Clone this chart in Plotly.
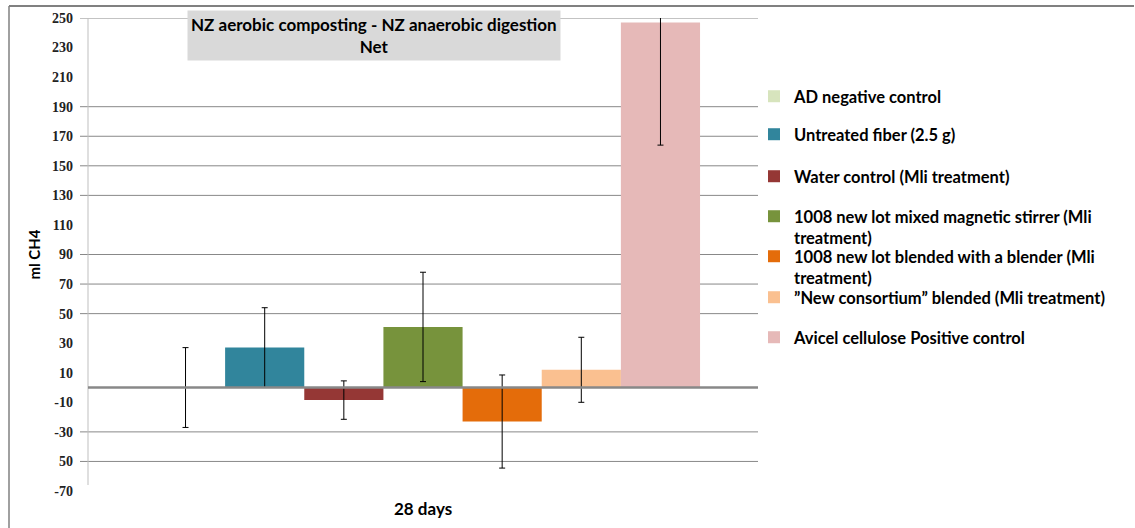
import plotly.graph_objects as go

categories = ["28 days"]
series_names = [
    "AD negative control",
    "Untreated fiber (2.5 g)",
    "Water control (Mli treatment)",
    "1008 new lot mixed magnetic stirrer (Mli<br>treatment)",
    "1008 new lot blended with a blender (Mli<br>treatment)",
    "\u201dNew consortium\u201d blended (Mli treatment)",
    "Avicel cellulose Positive control",
]
values = [0, 27, -8.5, 41, -23, 12, 247]
errors = [27, 27, 13, 37, 31.5, 22, 83]
colors = ["#d7e4bd", "#31859c", "#953735", "#77933c", "#e46c0a", "#fac090", "#e6b9b8"]

tick_vals = [250, 230, 210, 190, 170, 150, 130, 110, 90, 70, 50, 30, 10, -10, -30, -50, -70]
tick_text = ["250", "230", "210", "190", "170", "150", "130", "110", "90", "70", "50", "30", "10", "-10", "-30", "50", "-70"]
grid_vals = [250, 190, 170, 150, 130, 90, 70, 50, -30, -50]

W, H = 1135, 528
L, R, T, B = 88, 377, 18, 37
pw, ph = W - L - R, H - T - B

# pixel row of each legend entry's first line (layout only)
legend_rows = [96, 134, 176, 216, 256, 297, 337]

fig = go.Figure()
legend_defs = {}
for i, (name, v, e, c) in enumerate(zip(series_names, values, errors, colors)):
    lg = "legend" if i == 0 else "legend%d" % (i + 1)
    fig.add_trace(go.Bar(
        x=categories, y=[v], name="<b>" + name + "</b>", marker_color=c, marker_line_width=0,
        error_y=dict(type="data", array=[e], visible=True, color="#000000", thickness=1, width=3),
        legend=lg,
    ))
    legend_defs[lg] = dict(
        x=(754 - L) / pw, y=1 - (legend_rows[i] - 17 - T) / ph, xanchor="left", yanchor="top",
        font=dict(family="Lato", size=16.5, color="#000000"), itemwidth=30,
        bgcolor="rgba(0,0,0,0)", valign="top",
    )

shapes = []
for g in grid_vals:
    shapes.append(dict(type="line", xref="paper", yref="y", x0=-8 / pw, x1=1, y0=g, y1=g,
                       line=dict(color="#888888", width=1), layer="below"))
# zero line
shapes.append(dict(type="line", xref="paper", yref="y", x0=0, x1=1, y0=0, y1=0,
                   line=dict(color="#888888", width=2.5), layer="above"))
# y axis line
shapes.append(dict(type="line", xref="paper", yref="paper", x0=0, x1=0, y0=(491 - 485) / ph, y1=1,
                   line=dict(color="#bfbfbf", width=1), layer="below"))
# outer frame (chart area border): left and top edges
shapes.append(dict(type="line", xref="paper", yref="paper",
                   x0=(9 - L) / pw, x1=(9 - L) / pw, y0=-(B + 5) / ph, y1=1 + (T - 6) / ph,
                   line=dict(color="#808080", width=1.5)))
shapes.append(dict(type="line", xref="paper", yref="paper",
                   x0=(9 - L) / pw, x1=(W - 1 - L) / pw, y0=1 + (T - 6) / ph, y1=1 + (T - 6) / ph,
                   line=dict(color="#808080", width=2)))

fig.update_layout(
    width=W, height=H,
    margin=dict(l=L, r=R, t=T, b=B, autoexpand=False),
    paper_bgcolor="white", plot_bgcolor="white",
    barmode="group", bargap=0.173, bargroupgap=0,
    shapes=shapes,
    font=dict(family="Lato", color="#000000"),
    xaxis=dict(showgrid=False, showline=False, ticks="", showticklabels=False, zeroline=False),
    yaxis=dict(range=[-70, 250], tickvals=tick_vals, ticktext=tick_text, showgrid=False,
               zeroline=False, showline=False, ticks="", ticklabelstandoff=14,
               tickfont=dict(family="Liberation Serif", size=14, color="#222222", weight="bold"),
               title=dict(text="<b>ml CH4</b>", font=dict(family="Lato", size=15), standoff=7)),
    showlegend=True,
    annotations=[
        dict(text="<b>NZ aerobic composting - NZ anaerobic digestion<br>Net</b>", xref="paper", yref="paper",
             x=(374 - L) / pw, y=1 - (36 - T) / ph, xanchor="center", yanchor="middle", showarrow=False,
             bgcolor="#d9d9d9", borderpad=3, font=dict(family="Lato", size=17, color="#000000")),
        dict(text="<b>28 days</b>", xref="paper", yref="paper", x=0.5, y=-(508 - (H - B)) / ph,
             xanchor="center", yanchor="middle", showarrow=False, font=dict(family="Lato", size=17)),
    ],
    **legend_defs,
)

fig.write_html("out.html", config={"displayModeBar": False},
               post_script="document.body.style.margin='0';document.body.style.padding='0';")
